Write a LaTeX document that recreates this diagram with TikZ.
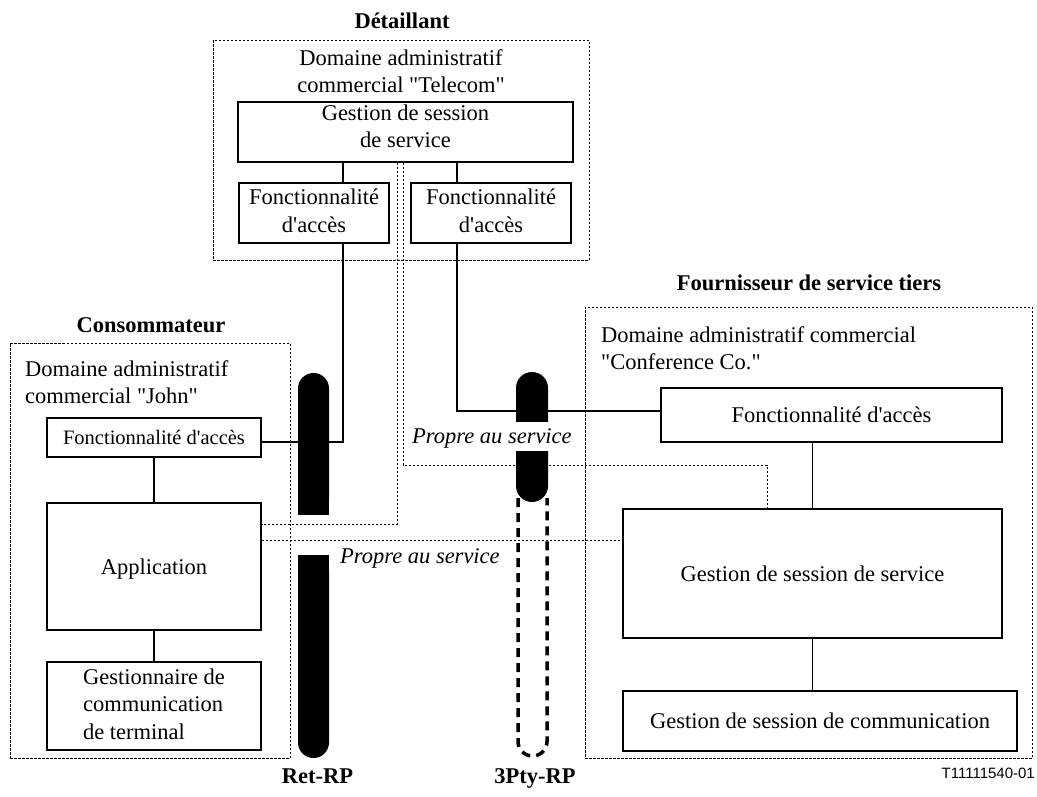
\documentclass[tikz,border=0pt]{standalone}
\usepackage{fontspec}
\setmainfont{Liberation Serif}[Ligatures=TeXOff]
\newfontfamily\figfont{Liberation Sans}
\begin{document}
\begin{tikzpicture}[x=1pt,y=-1pt,
  every node/.style={font=\fontsize{22.5}{27.5}\selectfont, inner sep=0pt},
  roletitle/.style={font=\fontsize{22.5}{27.5}\selectfont\bfseries},
  fbox/.style={draw, line width=1.1pt, fill=white},
  sfbox/.style={fbox, text depth=0pt},
  admbox/.style={draw, line width=0.8pt, dash pattern=on 2.5pt off 1.5pt},
  link/.style={line width=1.1pt},
  svclink/.style={line width=0.8pt, dash pattern=on 2.5pt off 1.5pt},
  pillarout/.style={line width=3.5pt, dash pattern=on 9pt off 6pt},
  scopelbl/.style={fill=white, inner xsep=2pt, inner ysep=1.5pt, text height=19.5pt, text depth=6.5pt,
    font=\fontsize{22.5}{27.5}\selectfont\itshape}]
\useasboundingbox (0,0) rectangle (1037,796);

% administrative domains
\node[admbox, minimum width=376pt, minimum height=220pt] (tel) at (401,150) {};
\node[admbox, minimum width=280pt, minimum height=415pt] (con) at (150,550.5) {};
\node[admbox, minimum width=447pt, minimum height=451pt] (tp) at (808.5,532.5) {};

% roles
\node[roletitle, anchor=base] (teltitle) at (402,28) {Détaillant};
\node[roletitle, anchor=base] (contitle) at (151,332) {Consommateur};
\node[roletitle, anchor=base] (tptitle) at (809,290) {Fournisseur de service tiers};

% domain names
\node[anchor=base] (teldom) at (401,65)
  {\begin{tabular}[t]{@{}c@{}}Domaine administratif\\commercial "Telecom"\end{tabular}};
\node[anchor=base west] (condom) at (25,376)
  {\begin{tabular}[t]{@{}l@{}}Domaine administratif\\commercial "John"\end{tabular}};
\node[anchor=base west] (tpdom) at (601,342)
  {\begin{tabular}[t]{@{}l@{}}Domaine administratif commercial\\"Conference Co."\end{tabular}};

% retailer functions
\node[fbox, minimum width=335pt, minimum height=60pt, text height=15.5pt, text depth=39.5pt] (tgss) at (405.5,132)
  {\begin{tabular}[t]{@{}c@{}}Gestion de session\\de service\end{tabular}};
\node[fbox, minimum width=150pt, minimum height=60pt] (tacc1) at (314,213)
  {\begin{tabular}[t]{@{}c@{}}Fonctionnalité\\d'accès\end{tabular}};
\node[fbox, minimum width=160pt, minimum height=60pt] (tacc2) at (491,213)
  {\begin{tabular}[t]{@{}c@{}}Fonctionnalité\\d'accès\end{tabular}};

% consumer functions
\node[sfbox, minimum width=214pt, minimum height=39pt, font=\fontsize{20.5}{24}\selectfont] (cacc) at (154,437.5)
  {Fonctionnalité d'accès};
\node[sfbox, minimum width=214pt, minimum height=127pt] (app) at (154,566.5) {Application};
\node[fbox, minimum width=214pt, minimum height=88pt] (gtc) at (154,706)
  {\begin{tabular}[t]{@{}l@{}}Gestionnaire de\\communication\\de terminal\end{tabular}};

% third-party functions
\node[sfbox, minimum width=341pt, minimum height=54pt] (tpacc) at (831.5,415) {Fonctionnalité d'accès};
\node[sfbox, minimum width=379pt, minimum height=129pt] (tpgss) at (812.5,573.5) {Gestion de session de service};
\node[sfbox, minimum width=394pt, minimum height=60pt] (tpgsc) at (820,721) {Gestion de session de communication};

% internal links
\draw[link] (tgss.south -| 343,0) -- (tacc1.north -| 343,0);
\draw[link] (tgss.south -| 457,0) -- (tacc2.north -| 457,0);
\draw[link] (cacc.south) -- (app.north);
\draw[link] (app.south) -- (gtc.north);
\draw[link] (tpacc.south -| tpgss.north) -- (tpgss.north);
\draw[link] (tpgss.south) -- (tpgss.south |- tpgsc.north);

% access links across the reference points
\draw[link] (tacc1.south -| 343,0) |- (cacc.east |- 0,442);
\draw[link] (tacc2.south -| 457,0) |- (tpacc.west |- 0,411);

% service-specific links
\draw[svclink] (tgss.south -| 397,0) |- (app.east |- 0,524);
\draw[svclink] (tgss.south -| 403,0) |- (767,465) -- (tpgss.north -| 767,0);
\draw[svclink] (app.east |- 0,540) -- (tpgss.west |- 0,540);

% Ret-RP
\fill[rounded corners=15.5pt] (298,373) rectangle (329,515);
\fill (298,420) rectangle (329,515);
\fill[rounded corners=15.5pt] (298,555) rectangle (329,758);
\fill (298,555) rectangle (329,700);

% 3Pty-RP
\fill[rounded corners=16pt] (516,372) rectangle (548,502);
\draw[pillarout, rounded corners=14.5pt] (518,498) -- (518,756) -- (547,756) -- (547,498);

% scope labels
\node[scopelbl, anchor=base west] (svc1) at (410,443) {Propre au service};
\node[scopelbl, anchor=base west] (svc2) at (338,563) {Propre au service};

% reference point names
\node[roletitle, anchor=base] (retrp) at (317.5,783) {Ret-RP};
\node[roletitle, anchor=base] (tprp) at (535,783) {3Pty-RP};

\node[anchor=base east, font=\figfont\fontsize{15}{18}\selectfont] (figno) at (1035,778) {T11111540-01};
\end{tikzpicture}
\end{document}
